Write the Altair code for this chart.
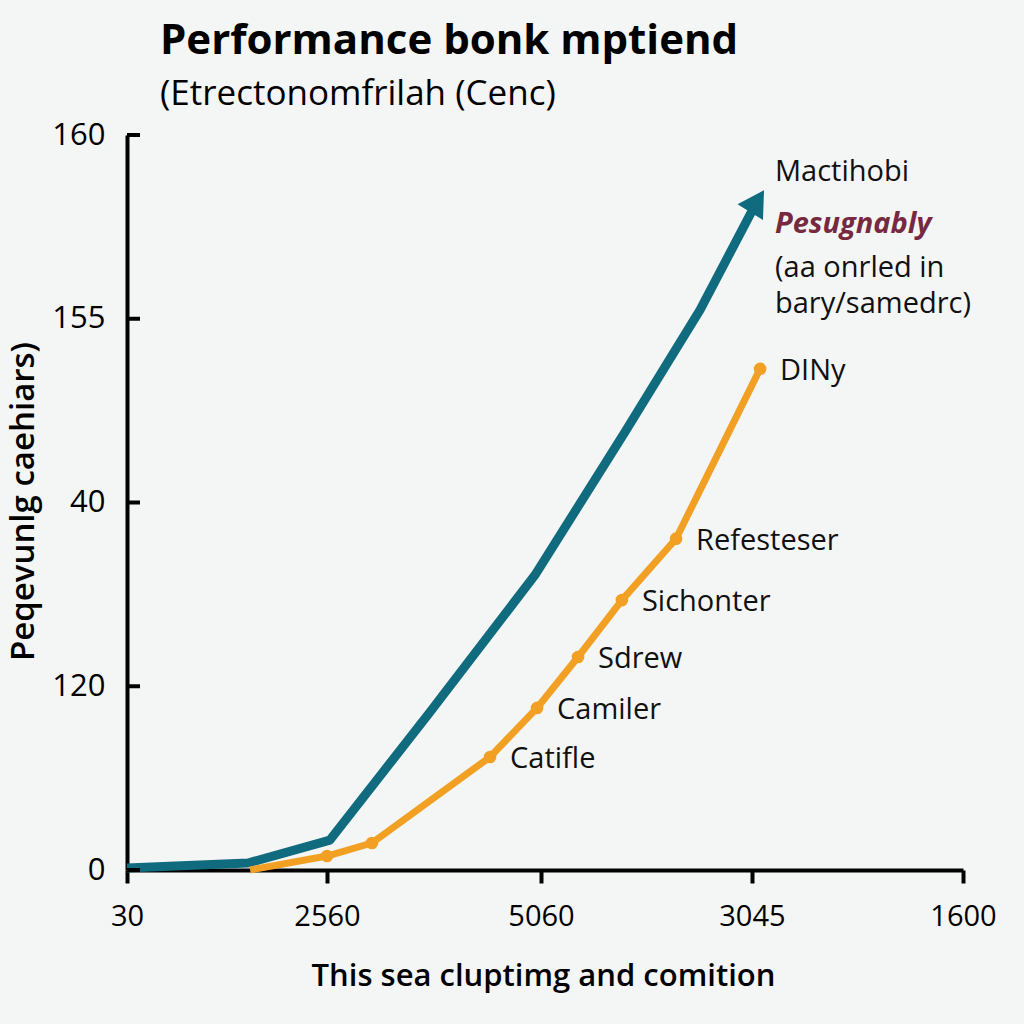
import altair as alt
import pandas as pd

# ---- data (index units) ----
x_tick_pos = [0, 0.957, 1.981, 2.990, 4]
x_tick_labels = ["30", "2560", "5060", "3045", "1600"]
y_tick_pos = [0, 1, 2, 3, 4]
y_tick_labels = ["0", "120", "40", "155", "160"]

teal_x = [0.0, 0.579, 0.971, 1.450, 1.952, 2.383, 2.742, 3.015]
teal_y = [0.011, 0.038, 0.163, 0.860, 1.605, 2.384, 3.048, 3.640]

orange_x = [0.589, 0.957, 1.172, 1.737, 1.962, 2.158, 2.368, 2.627, 3.029]
orange_y = [0.0, 0.076, 0.147, 0.615, 0.882, 1.159, 1.469, 1.803, 2.727]
orange_labels = ["", "", "", "Catifle", "Camiler", "Sdrew", "Sichonter", "Refesteser", "DINy"]

title_text = "Performance bonk mptiend"
subtitle_text = "(Etrectonomfrilah (Cenc)"
y_title = "Peqevunlg caehiars)"
x_title = "This sea cluptimg and comition"
notes = ["Mactihobi", "Pesugnably", "(aa onrled in", "bary/samedrc)"]

TEAL = "#0f6b7d"
ORANGE = "#f2a024"
MAROON = "#76293f"
FONT2 = "Open Sans, Noto Sans, sans-serif"

teal = pd.DataFrame({"x": teal_x, "y": teal_y})
orange = pd.DataFrame({"x": orange_x, "y": orange_y, "label": orange_labels})
yt = pd.DataFrame({"y": y_tick_pos})

def lab_expr(pos, labels):
    parts = []
    for p, l in zip(pos, labels):
        parts.append(f"abs(datum.value - {p}) < 0.001 ? '{l}' : ")
    return "".join(parts) + "''"

xscale = alt.Scale(domain=[0, 4], nice=False, zero=False)
yscale = alt.Scale(domain=[0, 4], nice=False, zero=False)

xaxis = alt.Axis(values=x_tick_pos, labelExpr=lab_expr(x_tick_pos, x_tick_labels),
                 grid=False, domainColor="black", domainWidth=4, tickColor="black",
                 tickWidth=4, tickSize=13, labelFontSize=29, labelFont=FONT2, labelColor="black",
                 labelPadding=19, labelFlush=False, title=x_title, titleFont=FONT2,
                 titleFontSize=31, titleFontWeight=600, titleColor="black",
                 titleX=416, titleY=106, titleBaseline="middle", titleAlign="center")
yaxis = alt.Axis(values=y_tick_pos, labelExpr=lab_expr(y_tick_pos, y_tick_labels),
                 grid=False, domainColor="black", domainWidth=4, ticks=False,
                 labelFontSize=31, labelFont=FONT2, labelColor="black", labelPadding=22,
                 title=y_title, titleFont=FONT2, titleFontSize=33, titleFontWeight=600,
                 titleColor="black", titleX=-104, titleY=366, titleAngle=270,
                 titleBaseline="middle", titleAlign="center")

base_x = alt.X("x:Q", scale=xscale, axis=xaxis)
base_y = alt.Y("y:Q", scale=yscale, axis=yaxis)

inner_ticks = alt.Chart(yt).mark_rule(color="black", strokeWidth=4).encode(
    y=alt.Y("y:Q", scale=yscale), x=alt.value(0), x2=alt.value(13))

teal_line = alt.Chart(teal).mark_line(color=TEAL, strokeWidth=9, strokeJoin="round").encode(
    x=base_x, y=base_y)
arrow = alt.Chart(teal.tail(1)).mark_point(shape="triangle-up", filled=True, color=TEAL,
                                           size=900, angle=32, opacity=1).encode(
    x=alt.X("x:Q", scale=xscale), y=alt.Y("y:Q", scale=yscale))

orange_line = alt.Chart(orange).mark_line(color=ORANGE, strokeWidth=7, strokeJoin="round").encode(
    x=alt.X("x:Q", scale=xscale), y=alt.Y("y:Q", scale=yscale))
orange_pts = alt.Chart(orange.iloc[1:]).mark_circle(color=ORANGE, size=160, opacity=1).encode(
    x=alt.X("x:Q", scale=xscale), y=alt.Y("y:Q", scale=yscale))
orange_txt = alt.Chart(orange.iloc[3:]).mark_text(align="left", baseline="middle", dx=20, dy=2,
                                                  fontSize=29, font=FONT2, color="#111").encode(
    x=alt.X("x:Q", scale=xscale), y=alt.Y("y:Q", scale=yscale), text="label:N")

note_layers = []
note_y = [37, 89, 133, 169]
note_styles = [
    dict(color="#111", fontSize=29, fontStyle="normal", fontWeight="normal"),
    dict(color=MAROON, fontSize=29, fontStyle="italic", fontWeight="bold"),
    dict(color="#111", fontSize=29, fontStyle="normal", fontWeight="normal"),
    dict(color="#111", fontSize=29, fontStyle="normal", fontWeight="normal"),
]
for t, yy, st in zip(notes, note_y, note_styles):
    note_layers.append(
        alt.Chart(pd.DataFrame({"t": [t]})).mark_text(align="left", baseline="middle", font=FONT2,
                                                      **st).encode(
            x=alt.value(648), y=alt.value(yy), text="t:N"))

chart = alt.layer(teal_line, orange_line, orange_pts, arrow, inner_ticks, orange_txt,
                  *note_layers).properties(
    width=836, height=735,
    title=alt.TitleParams(text=title_text, subtitle=subtitle_text, anchor="start", frame="group",
                          dx=33, offset=6, fontSize=42, fontWeight="bold", font=FONT2,
                          color="black", subtitleFontSize=35, subtitleFont=FONT2,
                          subtitleColor="black", subtitlePadding=14),
    autosize=alt.AutoSizeParams(type="none"),
    padding={"left": 127, "top": 135, "right": 61, "bottom": 154},
).configure(background="#f4f5f5").configure_view(stroke=None)

chart.save("out.html", embed_options={"renderer": "svg", "actions": False})
